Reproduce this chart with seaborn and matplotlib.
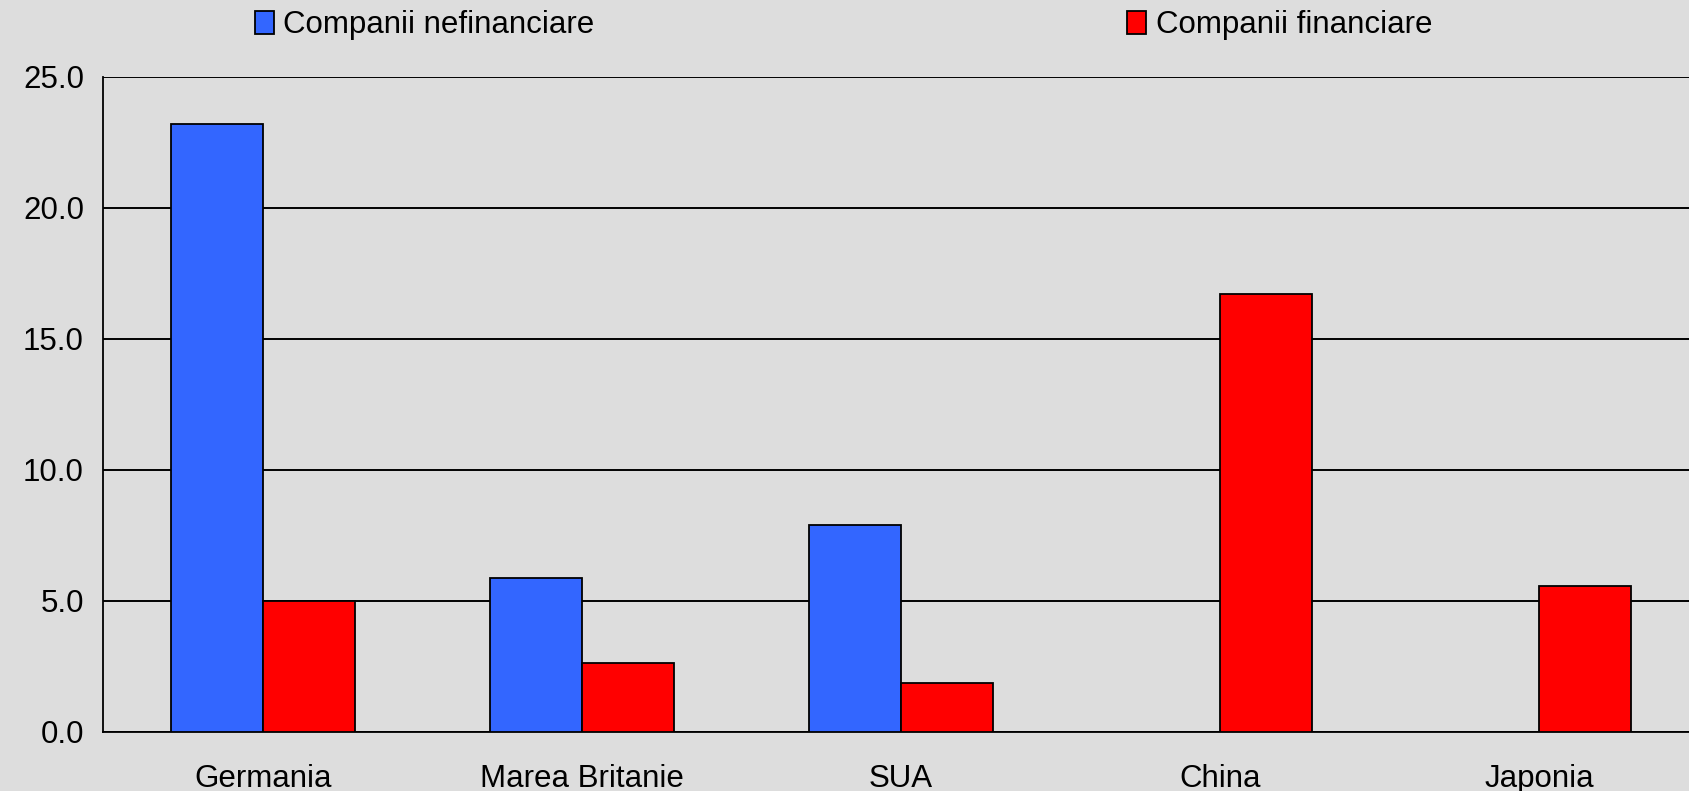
import numpy as np
import pandas as pd
import matplotlib
matplotlib.use("Agg")
import matplotlib.pyplot as plt
import seaborn as sns

sns.set_style("white")
plt.rcParams['font.family'] = ['Liberation Sans', 'DejaVu Sans']
plt.rcParams['text.color'] = "black"
plt.rcParams['xtick.color'] = "black"
plt.rcParams['ytick.color'] = "black"

# date
tari = ["Germania", "Marea Britanie", "SUA", "China", "Japonia"]
nefinanciare = [23.2, 5.85, 7.9, np.nan, np.nan]
financiare = [5.0, 2.62, 1.85, 16.7, 5.55]
serii = ["Companii nefinanciare", "Companii financiare"]
culori = ["#3366FF", "#FF0000"]
y_ticks = [0, 5, 10, 15, 20, 25]

df = pd.DataFrame({
    "tara": tari * 2,
    "serie": [serii[0]] * len(tari) + [serii[1]] * len(tari),
    "valoare": nefinanciare + financiare,
})

fig = plt.figure(figsize=(16.9, 7.91), dpi=100, facecolor="#DDDDDD")
ax = fig.add_axes([0.0612, 0.075, 0.944, 0.828])
ax.set_facecolor("#DDDDDD")

sns.barplot(data=df, x="tara", y="valoare", hue="serie", order=tari,
            hue_order=serii, palette=culori, width=0.575, errorbar=None,
            edgecolor="black", linewidth=1.3, saturation=1, ax=ax, zorder=3)

ax.set_xlim(-0.5, 4.5)
ax.set_ylim(0, 25)
ax.set_yticks(y_ticks)
ax.set_yticklabels([f"{v:.1f}" for v in y_ticks])
ax.yaxis.grid(True, color="black", linewidth=1.4, zorder=0)
ax.set_axisbelow(True)

ax.set_xticks(range(len(tari)))
ax.set_xticks(np.arange(-0.5, len(tari), 1.0), minor=True)
ax.tick_params(axis="x", which="major", length=0, pad=23, labelsize=22.5)
ax.tick_params(axis="x", which="minor", length=8, width=1.3, direction="out", color="black")
ax.tick_params(axis="y", length=8, width=1.3, direction="out", color="black", pad=6, labelsize=22.5)
ax.set_xlabel("")
ax.set_ylabel("")

for s in ["top", "right"]:
    ax.spines[s].set_visible(False)
for s in ["left", "bottom"]:
    ax.spines[s].set_color("black")
    ax.spines[s].set_linewidth(1.3)

handles, labels = ax.get_legend_handles_labels()
ax.get_legend().remove()
fig.legend(handles, labels, loc="center left", bbox_to_anchor=(0.151, 0.968),
           ncol=2, frameon=False, fontsize=22.5, handlelength=0.6,
           handleheight=0.75, handletextpad=0.3, columnspacing=17.05,
           borderaxespad=0, borderpad=0)

fig.savefig("out.png", dpi=100, facecolor=fig.get_facecolor())
